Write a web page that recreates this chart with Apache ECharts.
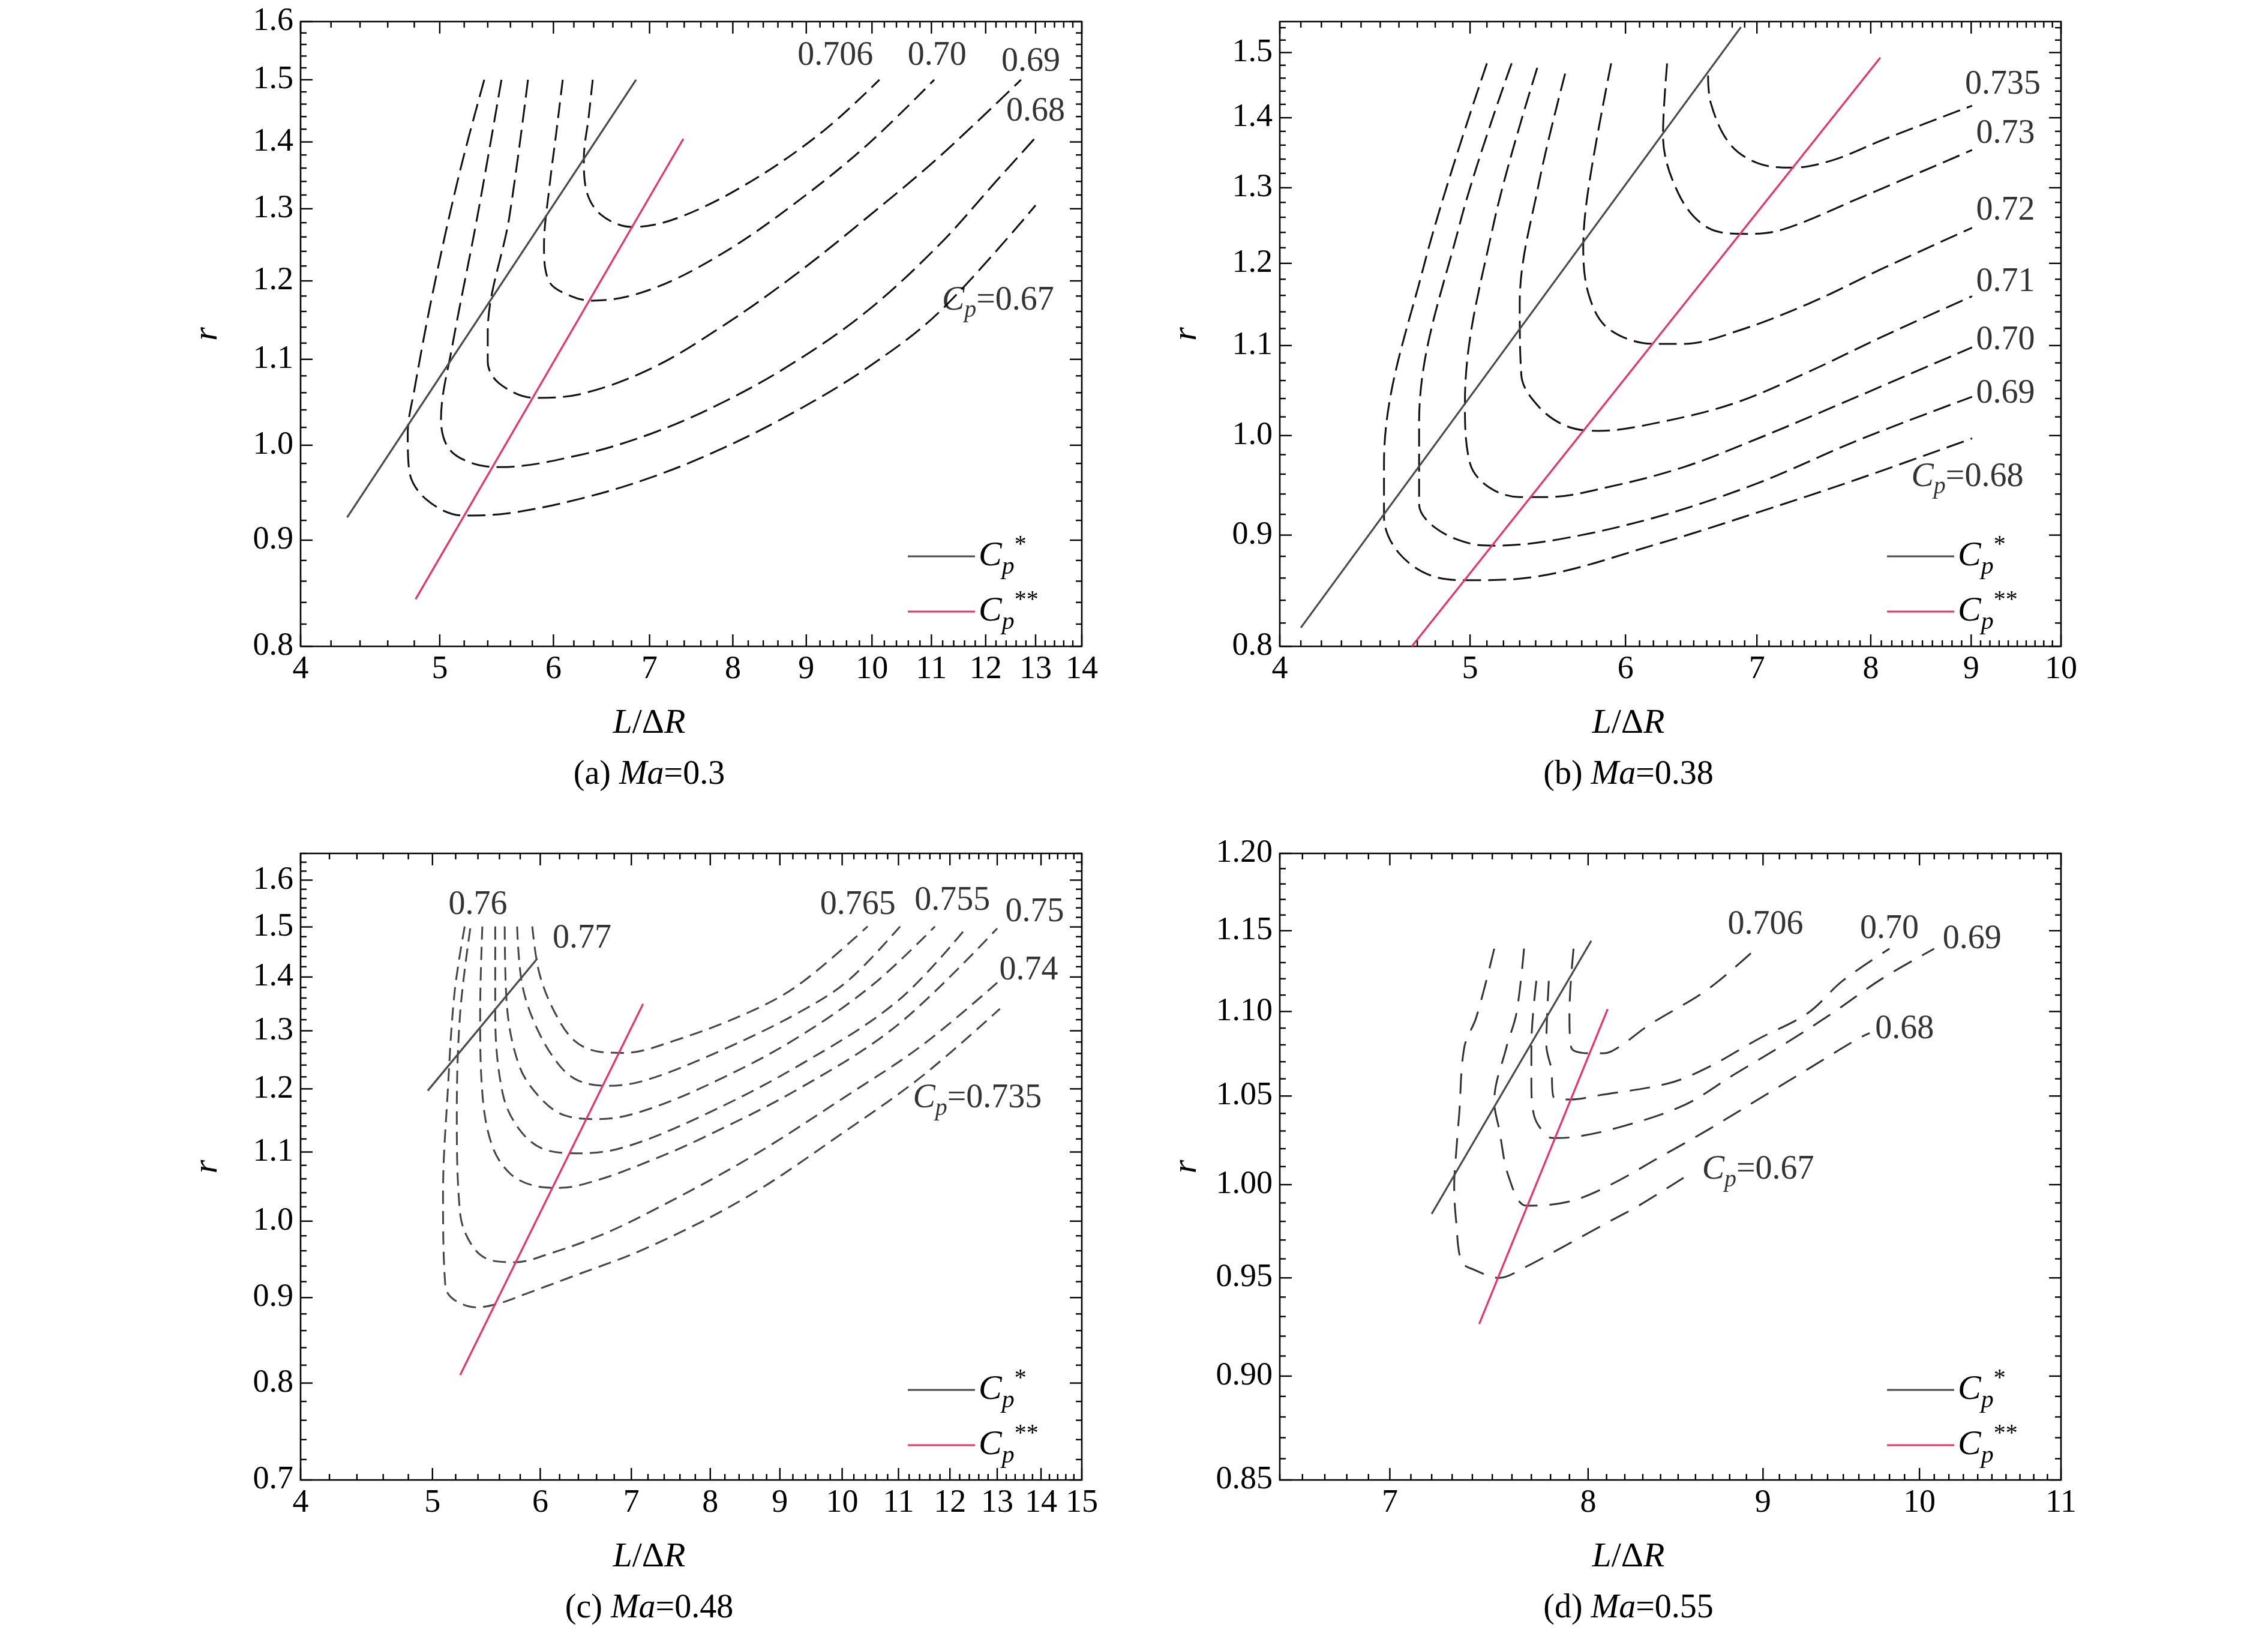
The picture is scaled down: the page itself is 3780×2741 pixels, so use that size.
<!DOCTYPE html>
<html><head><meta charset="utf-8">
<script src="https://cdn.jsdelivr.net/npm/echarts@6/dist/echarts.min.js"></script>
<style>html,body{margin:0;padding:0;background:#fff}#c{width:3780px;height:2741px}</style>
</head><body><div id="c"></div>
<script>
// ---------- Panel (a) Ma=0.3 ----------
const aCp0706 = [[6.39,1.50],[6.35,1.441],[6.30,1.374],[6.32,1.33],[6.47,1.292],[6.81,1.274],[7.35,1.288],[8.25,1.341],[9.26,1.418],[10.12,1.50]];
const aCp070  = [[6.09,1.50],[6.03,1.418],[5.96,1.33],[5.91,1.248],[5.96,1.199],[6.17,1.18],[6.39,1.174],[7.02,1.189],[7.88,1.238],[8.84,1.308],[9.93,1.396],[11.05,1.50]];
const aCp069  = [[5.76,1.50],[5.59,1.288],[5.40,1.133],[5.40,1.097],[5.50,1.071],[5.82,1.054],[6.25,1.058],[7.02,1.089],[7.88,1.142],[8.84,1.208],[9.93,1.288],[11.15,1.378],[12.70,1.50]];
const aCp068  = [[5.52,1.50],[5.31,1.288],[5.10,1.115],[5.01,1.029],[5.07,0.997],[5.25,0.981],[5.50,0.976],[6.25,0.989],[7.02,1.013],[7.88,1.049],[8.84,1.097],[9.93,1.161],[11.15,1.25],[12.2,1.34],[13.0,1.407]];
const aCp067  = [[5.37,1.50],[5.16,1.352],[4.95,1.189],[4.80,1.063],[4.75,1.013],[4.76,0.973],[4.89,0.942],[5.19,0.925],[5.56,0.927],[6.25,0.942],[7.02,0.965],[7.88,0.997],[8.84,1.038],[9.93,1.09],[11.15,1.16],[13.0,1.305]];
const aCpStar  = [[4.31,0.923],[6.85,1.50]];
const aCpStar2 = [[4.81,0.843],[7.39,1.405]];
const aLabels = [["0.706",9.43,1.54],["0.70",11.1,1.54],["0.69",12.9,1.53],["0.68",13.0,1.448],["C=0.67",12.24,1.174]];
const aXTicks = [4,5,6,7,8,9,10,11,12,13,14];
const aYTicks = [0.8,0.9,1.0,1.1,1.2,1.3,1.4,1.5,1.6];
const aYTickLabels = ["0.8","0.9","1.0","1.1","1.2","1.3","1.4","1.5","1.6"];

// ---------- Panel (b) Ma=0.38 ----------
const bCp0735 = [[6.61,1.464],[6.63,1.423],[6.78,1.362],[7.01,1.334],[7.31,1.328],[7.66,1.339],[8.12,1.368],[9.01,1.418]];
const bCp073  = [[6.30,1.483],[6.27,1.374],[6.39,1.29],[6.61,1.246],[6.91,1.238],[7.22,1.244],[7.88,1.285],[9.01,1.353]];
const bCp072  = [[5.90,1.483],[5.75,1.306],[5.71,1.219],[5.75,1.159],[5.88,1.12],[6.20,1.102],[6.42,1.102],[6.82,1.116],[7.44,1.15],[8.12,1.194],[9.01,1.246]];
const bCp071  = [[5.59,1.467],[5.42,1.306],[5.30,1.15],[5.31,1.066],[5.42,1.031],[5.60,1.01],[5.81,1.005],[6.24,1.014],[6.82,1.035],[7.44,1.07],[8.12,1.111],[9.01,1.159]];
const bCp070  = [[5.41,1.476],[5.14,1.251],[4.97,1.035],[5.00,0.971],[5.11,0.947],[5.30,0.937],[5.48,0.937],[5.88,0.947],[6.42,0.967],[7.01,0.997],[7.66,1.031],[8.35,1.066],[9.01,1.098]];
const bCp069  = [[5.25,1.483],[4.94,1.251],[4.71,1.014],[4.71,0.930],[4.80,0.907],[5.00,0.892],[5.14,0.890],[5.55,0.896],[6.24,0.918],[7.01,0.951],[7.88,0.995],[9.01,1.042]];
const bCp068  = [[5.10,1.483],[4.74,1.2],[4.52,0.971],[4.52,0.918],[4.60,0.883],[4.80,0.861],[5.00,0.858],[5.39,0.861],[6.24,0.892],[7.01,0.922],[7.88,0.955],[9.01,0.997]];
const bCpStar  = [[4.10,0.816],[6.87,1.541]];
const bCpStar2 = [[4.67,0.80],[8.09,1.492]];
const bLabels = [["0.735",9.34,1.450],["0.73",9.37,1.376],["0.72",9.37,1.269],["0.71",9.37,1.176],["0.70",9.37,1.106],["0.69",9.37,1.045],["C=0.68",8.96,0.957]];
const bXTicks = [4,5,6,7,8,9,10];
const bYTicks = [0.8,0.9,1.0,1.1,1.2,1.3,1.4,1.5];
const bYTickLabels = ["0.8","0.9","1.0","1.1","1.2","1.3","1.4","1.5"];

// ---------- Panel (c) Ma=0.48 ----------
const cCp0735 = [[5.28,1.501],[5.19,1.37],[5.13,1.193],[5.09,1.039],[5.11,0.914],[5.19,0.897],[5.39,0.888],[5.60,0.893],[5.84,0.904],[6.30,0.925],[7.21,0.965],[8.53,1.035],[10.10,1.135],[11.46,1.222],[13.06,1.340]];
const cCp074  = [[5.33,1.497],[5.24,1.333],[5.21,1.161],[5.24,1.01],[5.35,0.966],[5.51,0.948],[5.75,0.945],[6.09,0.956],[6.63,0.980],[7.21,1.012],[8.53,1.09],[10.10,1.19],[11.46,1.275],[13.0,1.389]];
const cCp075  = [[5.44,1.501],[5.42,1.333],[5.44,1.193],[5.53,1.11],[5.70,1.068],[5.94,1.05],[6.20,1.047],[6.63,1.059],[7.21,1.086],[7.85,1.119],[9.29,1.20],[10.99,1.311],[13.0,1.497]];
const cCp0755 = [[5.56,1.501],[5.56,1.333],[5.63,1.193],[5.79,1.135],[6.04,1.104],[6.41,1.098],[6.91,1.107],[7.85,1.154],[9.29,1.239],[10.99,1.355],[12.36,1.501]];
const cCp076  = [[5.65,1.501],[5.67,1.348],[5.79,1.239],[5.99,1.187],[6.25,1.157],[6.63,1.151],[7.21,1.167],[8.18,1.219],[9.29,1.289],[10.53,1.385],[11.70,1.501]];
const cCp0765 = [[5.77,1.501],[5.82,1.385],[5.97,1.303],[6.20,1.239],[6.41,1.213],[6.74,1.205],[7.21,1.216],[8.18,1.267],[9.29,1.333],[10.10,1.393],[11.03,1.501]];
const cCp077  = [[5.92,1.501],[5.99,1.408],[6.15,1.333],[6.36,1.282],[6.63,1.263],[6.91,1.261],[7.52,1.282],[8.53,1.333],[9.29,1.385],[10.44,1.501]];
const cCpStar  = [[4.96,1.197],[5.97,1.436]];
const cCpStar2 = [[5.24,0.809],[7.14,1.349]];
const cLabels = [["0.76",5.40,1.546],["0.77",6.44,1.476],["0.765",10.27,1.546],["0.755",12.05,1.555],["0.75",13.85,1.53],["0.74",13.71,1.412],["C=0.735",12.57,1.184]];
const cXTicks = [4,5,6,7,8,9,10,11,12,13,14,15];
const cYTicks = [0.7,0.8,0.9,1.0,1.1,1.2,1.3,1.4,1.5,1.6];
const cYTickLabels = ["0.7","0.8","0.9","1.0","1.1","1.2","1.3","1.4","1.5","1.6"];

// ---------- Panel (d) Ma=0.55 ----------
const dCp0706 = [[7.922,1.1387],[7.90,1.099],[7.909,1.0786],[8.003,1.075],[8.084,1.075],[8.166,1.0786],[8.333,1.0917],[8.675,1.1138],[8.97,1.140]];
const dCp070  = [[7.791,1.1187],[7.778,1.0798],[7.804,1.0656],[7.817,1.0492],[7.909,1.048],[8.057,1.0504],[8.446,1.0574],[8.675,1.0668],[8.97,1.0834],[9.275,1.099],[9.495,1.1187],[9.80,1.1387]];
const dCp069  = [[7.726,1.1187],[7.70,1.0798],[7.70,1.0586],[7.714,1.0388],[7.778,1.0274],[7.817,1.026],[7.896,1.0263],[8.166,1.032],[8.531,1.0446],[8.82,1.0621],[9.12,1.0798],[9.43,1.099],[9.75,1.120],[10.10,1.1387]];
const dCp068  = [[7.662,1.1387],[7.623,1.099],[7.572,1.0786],[7.51,1.0469],[7.535,1.0308],[7.585,1.0038],[7.675,0.9885],[7.896,0.9907],[8.111,0.9994],[8.389,1.0149],[8.675,1.0308],[8.97,1.048],[9.275,1.0656],[9.59,1.0834],[9.67,1.087]];
const dCp067  = [[7.51,1.1387],[7.42,1.0966],[7.36,1.0786],[7.335,1.04],[7.32,1.0183],[7.31,0.9994],[7.32,0.9797],[7.347,0.9584],[7.41,0.9542],[7.535,0.95],[7.662,0.9553],[7.896,0.968],[8.111,0.9797],[8.277,0.9885],[8.531,1.0038]];
const dCpStar  = [[7.20,0.984],[8.017,1.1437]];
const dCpStar2 = [[7.434,0.9262],[8.106,1.1015]];
const dLabels = [["0.706",9.015,1.1536],["0.70",9.80,1.151],["0.69",10.36,1.1446],["0.68",9.90,1.0893],["C=0.67",8.97,1.0082]];
const dXTicks = [7,8,9,10,11];
const dYTicks = [0.85,0.90,0.95,1.00,1.05,1.10,1.15,1.20];
const dYTickLabels = ["0.85","0.90","0.95","1.00","1.05","1.10","1.15","1.20"];

const captions = [["(a) ","Ma","=0.3"],["(b) ","Ma","=0.38"],["(c) ","Ma","=0.48"],["(d) ","Ma","=0.55"]];

// ---------- layout ----------
const FONT = 'Liberation Serif';
const grids = [
  {left:501, top:36, width:1302, height:1041},
  {left:2133, top:36, width:1302, height:1041},
  {left:501, top:1422, width:1302, height:1044},
  {left:2133, top:1422, width:1302, height:1044}
];
const ranges = [
  {x:[4,14], y:[0.8,1.6], xMinorStep:0.2, yMinorStep:0.02},
  {x:[4,10], y:[0.8,1.55], xMinorStep:0.1, yMinorStep:0.02},
  {x:[4,15], y:[0.7,1.66], xMinorStep:0.2, yMinorStep:0.02},
  {x:[6.5,11], y:[0.85,1.2], xMinorStep:0.1, yMinorStep:0.01}
];
const xTickSets = [aXTicks,bXTicks,cXTicks,dXTicks];
const yTickSets = [aYTicks,bYTicks,cYTicks,dYTicks];
const yTickLabelSets = [aYTickLabels,bYTickLabels,cYTickLabels,dYTickLabels];

const DASH_COLOR = ['#111','#111','#444','#333'];
const series = [];
function contour(g, data, dash) {
  series.push({type:'line', xAxisIndex:g, yAxisIndex:g, data:data, showSymbol:false, silent:true,
    smooth:0.35, lineStyle:{color:DASH_COLOR[g], width:3, type:dash}, z:3});
}
function cpLine(g, data, color) {
  series.push({type:'line', xAxisIndex:g, yAxisIndex:g, data:data, showSymbol:false, silent:true,
    lineStyle:{color:color, width:3.2}, z:4});
}
function labels(g, list) {
  series.push({type:'scatter', xAxisIndex:g, yAxisIndex:g, symbolSize:0, silent:true, z:5,
    data:list.map(l=>({value:[l[1],l[2]], name:l[0]})),
    label:{show:true, position:'inside', fontFamily:FONT, fontSize:56, color:'#000',
      formatter:p => p.name.startsWith('C=') ? '{i|C}{s|p}{n|=' + p.name.slice(2) + '}' : p.name,
      rich:{i:{fontFamily:FONT,fontSize:56,fontStyle:'italic'}, s:{fontFamily:FONT,fontSize:40,fontStyle:'italic',verticalAlign:'top',padding:[34,0,0,0]}, n:{fontFamily:FONT,fontSize:56}}}});
}
function ticks(g) {
  const r = ranges[g];
  const list = [];
  const xs = xTickSets[g], ys = yTickSets[g], yl = yTickLabelSets[g];
  xs.forEach(v => list.push({axis:'x', v:v, major:true, text:String(v)}));
  for (let k = Math.round(r.x[0]/r.xMinorStep); k*r.xMinorStep <= r.x[1]+1e-9; k++) {
    const v = k*r.xMinorStep; if (!xs.some(m=>Math.abs(m-v)<1e-6)) list.push({axis:'x', v:v, major:false});
  }
  ys.forEach((v,i) => list.push({axis:'y', v:v, major:true, text:yl[i]}));
  for (let k = Math.round(r.y[0]/r.yMinorStep); k*r.yMinorStep <= r.y[1]+1e-9; k++) {
    const v = k*r.yMinorStep; if (!ys.some(m=>Math.abs(m-v)<1e-6)) list.push({axis:'y', v:v, major:false});
  }
  series.push({type:'custom', xAxisIndex:g, yAxisIndex:g, silent:true, clip:false, z:6,
    data:list.map(t => [t.axis==='x'?t.v:r.x[0], t.axis==='y'?t.v:r.y[0]]),
    renderItem:(params, api) => {
      const t = list[params.dataIndex];
      const cs = params.coordSys;
      const len = t.major ? 20 : 10;
      const st = {stroke:'#000', lineWidth:2.4};
      const ch = [];
      if (t.axis==='x') {
        const x = api.coord([t.v, r.y[0]])[0];
        const b = cs.y + cs.height, tp = cs.y;
        ch.push({type:'line', shape:{x1:x,y1:b,x2:x,y2:b-len}, style:st});
        ch.push({type:'line', shape:{x1:x,y1:tp,x2:x,y2:tp+len}, style:st});
        if (t.text) ch.push({type:'text', x:x, y:b+12, style:{text:t.text, fontFamily:FONT, fontSize:54, fill:'#000', align:'center', verticalAlign:'top'}});
      } else {
        const y = api.coord([r.x[0], t.v])[1];
        const l = cs.x, rt = cs.x + cs.width;
        ch.push({type:'line', shape:{x1:l,y1:y,x2:l+len,y2:y}, style:st});
        ch.push({type:'line', shape:{x1:rt,y1:y,x2:rt-len,y2:y}, style:st});
        if (t.text) ch.push({type:'text', x:l-12, y:y, style:{text:t.text, fontFamily:FONT, fontSize:54, fill:'#000', align:'right', verticalAlign:'middle'}});
      }
      return {type:'group', children:ch};
    }});
}

const D1 = [30,12], D2 = [26,12];
contour(0,aCp0706,D2); contour(0,aCp070,D2); contour(0,aCp069,D1); contour(0,aCp068,D1); contour(0,aCp067,D1);
cpLine(0,aCpStar,'#4a4a4a'); cpLine(0,aCpStar2,'#e8336b'); labels(0,aLabels); ticks(0);
[bCp0735,bCp073,bCp072,bCp071,bCp070,bCp069,bCp068].forEach(d=>contour(1,d,D1));
cpLine(1,bCpStar,'#4a4a4a'); cpLine(1,bCpStar2,'#e8336b'); labels(1,bLabels); ticks(1);
[cCp0735,cCp074,cCp075,cCp0755,cCp076,cCp0765,cCp077].forEach(d=>contour(2,d,[22,12]));
cpLine(2,cCpStar,'#4a4a4a'); cpLine(2,cCpStar2,'#e8336b'); labels(2,cLabels); ticks(2);
[dCp0706,dCp070,dCp069,dCp068,dCp067].forEach(d=>contour(3,d,[34,20]));
cpLine(3,dCpStar,'#4a4a4a'); cpLine(3,dCpStar2,'#e8336b'); labels(3,dLabels); ticks(3);

const xAxis = ranges.map((r,i)=>({type:'log', gridIndex:i, min:r.x[0], max:r.x[1], logBase:10,
  axisLine:{show:false}, axisTick:{show:false}, axisLabel:{show:false}, splitLine:{show:false}}));
const yAxis = ranges.map((r,i)=>({type:'log', gridIndex:i, min:r.y[0], max:r.y[1], logBase:10,
  axisLine:{show:false}, axisTick:{show:false}, axisLabel:{show:false}, splitLine:{show:false}}));

const graphic = [];
const richBase = {
  i:{fontFamily:FONT,fontSize:58,fontStyle:'italic'},
  n:{fontFamily:FONT,fontSize:58},
  s:{fontFamily:FONT,fontSize:42,fontStyle:'italic',verticalAlign:'top',padding:[36,0,0,0]},
  u:{fontFamily:FONT,fontSize:40,verticalAlign:'top',padding:[0,0,26,0]}
};
grids.forEach((g,i)=>{
  const lx1 = g.left + g.width - 290, lx2 = lx1 + 112;
  const y1 = g.top + g.height - 150, y2 = g.top + g.height - 58;
  graphic.push({type:'line', shape:{x1:lx1,y1:y1,x2:lx2,y2:y1}, style:{stroke:'#4a4a4a',lineWidth:3.2}});
  graphic.push({type:'line', shape:{x1:lx1,y1:y2,x2:lx2,y2:y2}, style:{stroke:'#e8336b',lineWidth:3.2}});
  graphic.push({type:'text', x:lx2+6, y:y1, style:{text:'{i|C}{s|p}{u|*}', rich:richBase, verticalAlign:'middle'}});
  graphic.push({type:'text', x:lx2+6, y:y2, style:{text:'{i|C}{s|p}{u|**}', rich:richBase, verticalAlign:'middle'}});
  graphic.push({type:'text', x:g.left + g.width*0.5 - 70, y:g.top + g.height + 100,
    style:{text:'{i|L}{n|/Δ}{i|R}', rich:richBase, align:'center'}});
  graphic.push({type:'text', x:g.left - 155, y:g.top + g.height*0.5, rotation:Math.PI/2,
    style:{text:'{i|r}', rich:richBase, align:'center', verticalAlign:'middle'}});
  const c = captions[i];
  graphic.push({type:'text', x:g.left + g.width*0.5 - 70, y:g.top + g.height + 186,
    style:{text:'{n|'+c[0]+'}{i|'+c[1]+'}{n|'+c[2]+'}', rich:{i:{fontFamily:FONT,fontSize:56,fontStyle:'italic'}, n:{fontFamily:FONT,fontSize:56}}, align:'center'}});
});

const chart = echarts.init(document.getElementById('c'));
chart.setOption({
  backgroundColor:'#fff', animation:false,
  grid: grids.map(g=>Object.assign({show:true, borderColor:'#000', borderWidth:2.6, backgroundColor:'transparent'}, g)),
  xAxis, yAxis, series, graphic
});
</script></body></html>
